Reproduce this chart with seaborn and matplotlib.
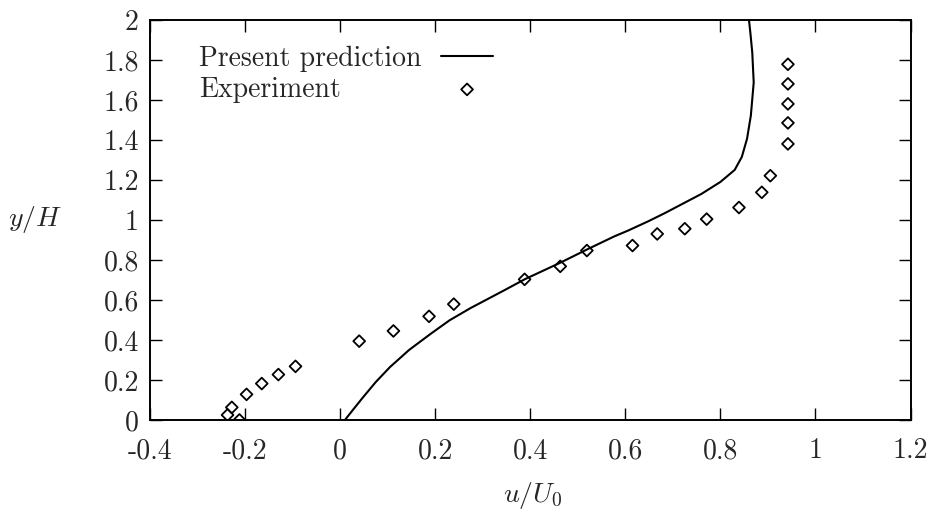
import matplotlib
matplotlib.use("Agg")
import matplotlib.pyplot as plt
import seaborn as sns
import pandas as pd

# prediction curve (u/U0, y/H)
pred_u = [0.010, 0.030, 0.049, 0.075, 0.105, 0.145, 0.190, 0.230, 0.274, 0.345,
          0.388, 0.463, 0.519, 0.577, 0.605, 0.648, 0.683, 0.760, 0.800, 0.830,
          0.845, 0.856, 0.864, 0.870, 0.867, 0.863, 0.860]
pred_y = [0.000, 0.060, 0.116, 0.190, 0.265, 0.350, 0.430, 0.498, 0.559, 0.648,
          0.703, 0.786, 0.852, 0.918, 0.946, 0.993, 1.034, 1.130, 1.190, 1.250,
          1.315, 1.406, 1.522, 1.687, 1.836, 1.935, 2.000]

# experiment points
exp_u = [-0.237, -0.228, -0.212, -0.197, -0.165, -0.130, -0.094, 0.040, 0.112,
         0.187, 0.239, 0.388, 0.463, 0.519, 0.615, 0.667, 0.725, 0.771, 0.839,
         0.887, 0.905, 0.942, 0.942, 0.942, 0.942, 0.942]
exp_y = [0.025, 0.063, 0.000, 0.128, 0.182, 0.227, 0.268, 0.394, 0.445, 0.518,
         0.579, 0.703, 0.768, 0.847, 0.872, 0.930, 0.956, 1.004, 1.062, 1.138,
         1.221, 1.380, 1.485, 1.580, 1.680, 1.778]

xticks = [-0.4, -0.2, 0, 0.2, 0.4, 0.6, 0.8, 1, 1.2]
xtick_labels = ["-0.4", "-0.2", "0", "0.2", "0.4", "0.6", "0.8", "1", "1.2"]
yticks = [0, 0.2, 0.4, 0.6, 0.8, 1, 1.2, 1.4, 1.6, 1.8, 2]
ytick_labels = ["0", "0.2", "0.4", "0.6", "0.8", "1", "1.2", "1.4", "1.6", "1.8", "2"]

pred = pd.DataFrame({"u": pred_u, "y": pred_y})
exp = pd.DataFrame({"u": exp_u, "y": exp_y})

sns.set_theme(style="ticks")
plt.rcParams["font.family"] = ["cmr10", "DejaVu Serif"]
plt.rcParams["mathtext.fontset"] = "cm"
plt.rcParams["axes.unicode_minus"] = False

fig, ax = plt.subplots(figsize=(9.32, 5.23), dpi=100)
fig.subplots_adjust(left=0.161, right=0.977, bottom=0.197, top=0.962)

sns.lineplot(data=pred, x="u", y="y", sort=False, estimator=None,
             color="black", linewidth=1.5, label="Present prediction", ax=ax)
sns.scatterplot(data=exp, x="u", y="y", marker="D", s=36, color="black",
                facecolor="none", edgecolor="black", linewidth=1.3,
                label="Experiment", ax=ax, zorder=3)

ax.set_xlim(-0.4, 1.2)
ax.set_ylim(0, 2)
ax.set_xticks(xticks)
ax.set_xticklabels(xtick_labels)
ax.set_yticks(yticks)
ax.set_yticklabels(ytick_labels)
ax.tick_params(axis="both", which="both", direction="in", length=8.5, width=1,
               top=True, right=True, labelsize=20, color="black")
ax.tick_params(axis="x", pad=13)
ax.tick_params(axis="y", pad=8)
for sp in ax.spines.values():
    sp.set_linewidth(1.4)
    sp.set_color("black")

ax.set_xlabel(r"$u/U_0$", fontsize=20, va="center")
ax.set_ylabel(r"$y/H$", fontsize=20, rotation=0, ha="center", va="center")
ax.xaxis.set_label_coords(0.503, -0.19)
ax.yaxis.set_label_coords(-0.151, 0.5)

leg = ax.legend(loc="upper left", bbox_to_anchor=(0.064, 0.935), frameon=False,
                markerfirst=False, fontsize=20, handlelength=1.9,
                handletextpad=0.7, labelspacing=0.15, borderpad=0,
                borderaxespad=0, scatterpoints=1)

# gnuplot style key: labels left aligned, samples lined up on the right
fig.canvas.draw()
renderer = fig.canvas.get_renderer()
widths = [t.get_window_extent(renderer).width for t in leg.get_texts()]
entries = leg._legend_handle_box.get_children()[0].get_children()
for entry, w in zip(entries, widths):
    entry.sep += (max(widths) - w) * 72.0 / fig.dpi

fig.savefig("out.png", dpi=100)
